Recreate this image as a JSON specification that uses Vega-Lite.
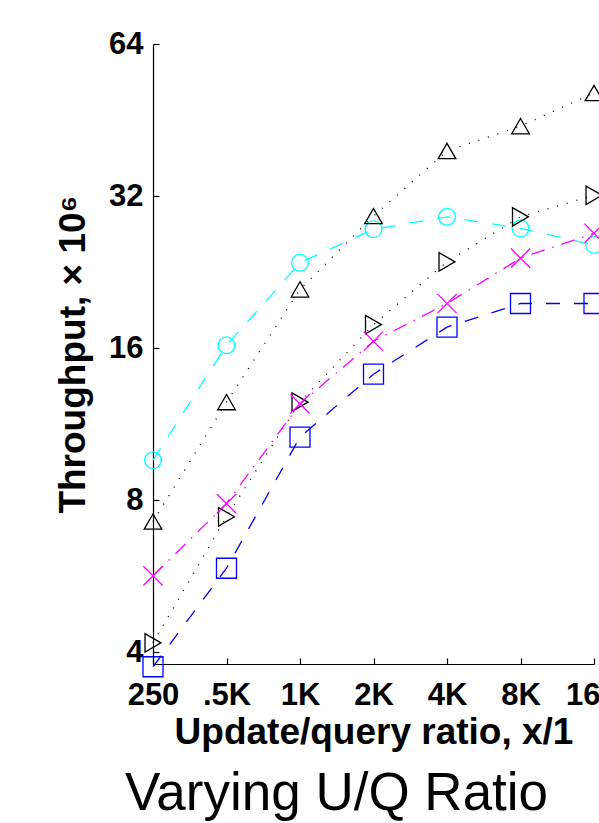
{
  "$schema": "https://vega.github.io/schema/vega-lite/v6.json",
  "width": 441,
  "height": 620,
  "autosize": {"type": "none"},
  "padding": {"left": 153, "top": 44, "right": 5, "bottom": 159},
  "background": "white",
  "config": {
    "view": {"stroke": null},
    "font": "Liberation Sans",
    "axis": {
      "grid": false,
      "domainColor": "black",
      "tickColor": "black",
      "labelColor": "black",
      "titleColor": "black",
      "labelFont": "Liberation Sans",
      "titleFont": "Liberation Sans",
      "labelFontWeight": "bold",
      "titleFontWeight": "bold",
      "labelFontSize": 31,
      "titleFontSize": 37,
      "domainWidth": 1.2,
      "tickWidth": 1.2,
      "tickSize": -6
    }
  },
  "title": {
    "text": "Varying U/Q Ratio",
    "orient": "bottom",
    "fontSize": 53,
    "fontWeight": "normal",
    "font": "Liberation Sans",
    "color": "black",
    "dx": -37,
    "offset": 18
  },
  "data": {
    "values": [
      {"series": "s1", "ratio": 250, "value": 9.59},
      {"series": "s1", "ratio": 500, "value": 16.2},
      {"series": "s1", "ratio": 1000, "value": 23.6},
      {"series": "s1", "ratio": 2000, "value": 27.5},
      {"series": "s1", "ratio": 4000, "value": 29.1},
      {"series": "s1", "ratio": 8000, "value": 27.6},
      {"series": "s1", "ratio": 16000, "value": 25.6},
      {"series": "s2", "ratio": 250, "value": 7.25},
      {"series": "s2", "ratio": 500, "value": 12.5},
      {"series": "s2", "ratio": 1000, "value": 20.9},
      {"series": "s2", "ratio": 2000, "value": 29.2},
      {"series": "s2", "ratio": 4000, "value": 39.3},
      {"series": "s2", "ratio": 8000, "value": 44.0},
      {"series": "s2", "ratio": 16000, "value": 51.2},
      {"series": "s3", "ratio": 250, "value": 4.17},
      {"series": "s3", "ratio": 500, "value": 7.41},
      {"series": "s3", "ratio": 1000, "value": 12.5},
      {"series": "s3", "ratio": 2000, "value": 17.8},
      {"series": "s3", "ratio": 4000, "value": 23.7},
      {"series": "s3", "ratio": 8000, "value": 29.1},
      {"series": "s3", "ratio": 16000, "value": 32.1},
      {"series": "s4", "ratio": 250, "value": 5.66},
      {"series": "s4", "ratio": 500, "value": 7.87},
      {"series": "s4", "ratio": 1000, "value": 12.4},
      {"series": "s4", "ratio": 2000, "value": 16.5},
      {"series": "s4", "ratio": 4000, "value": 19.6},
      {"series": "s4", "ratio": 8000, "value": 24.1},
      {"series": "s4", "ratio": 16000, "value": 27.0},
      {"series": "s5", "ratio": 250, "value": 3.74},
      {"series": "s5", "ratio": 500, "value": 5.86},
      {"series": "s5", "ratio": 1000, "value": 10.66},
      {"series": "s5", "ratio": 2000, "value": 14.2},
      {"series": "s5", "ratio": 4000, "value": 17.6},
      {"series": "s5", "ratio": 8000, "value": 19.6},
      {"series": "s5", "ratio": 16000, "value": 19.6}
    ]
  },
  "encoding": {
    "x": {
      "field": "ratio",
      "type": "quantitative",
      "scale": {"type": "log", "base": 2, "domain": [250, 16000], "nice": false},
      "axis": {
        "values": [250, 500, 1000, 2000, 4000, 8000, 16000],
        "labelExpr": "datum.value == 250 ? '250' : datum.value == 500 ? '.5K' : format(datum.value / 1000, 'd') + 'K'",
        "labelFlush": false,
        "labelOverlap": false,
        "labelPadding": 22,
        "title": "Update/query ratio, x/1",
        "titlePadding": 4
      }
    },
    "y": {
      "field": "value",
      "type": "quantitative",
      "scale": {"type": "log", "base": 2, "domain": [3.787, 64], "nice": false},
      "axis": {
        "values": [4, 8, 16, 32, 64],
        "format": "d",
        "labelPadding": 16,
        "title": "Throughput, × 10⁶",
        "titlePadding": 16
      }
    }
  },
  "layer": [
    {
      "mark": {"type": "line", "strokeWidth": 1.3, "clip": false},
      "encoding": {
        "color": {
          "field": "series",
          "type": "nominal",
          "scale": {"domain": ["s1", "s2", "s3", "s4", "s5"], "range": ["#00FFFF", "#000000", "#000000", "#FF00FF", "#0000FF"]},
          "legend": null
        },
        "strokeDash": {
          "field": "series",
          "type": "nominal",
          "scale": {"domain": ["s1", "s2", "s3", "s4", "s5"], "range": [[14, 14], [1, 9], [1, 9], [14, 8, 1.5, 8], [14, 14]]},
          "legend": null
        }
      }
    },
    {
      "mark": {"type": "point", "filled": false, "strokeWidth": 1.3, "opacity": 1, "clip": false},
      "encoding": {
        "color": {"field": "series", "type": "nominal", "legend": null},
        "shape": {
          "field": "series",
          "type": "nominal",
          "scale": {"domain": ["s1", "s2", "s3", "s4", "s5"], "range": ["circle", "triangle-up", "triangle-right", "M-1,-1L1,1M-1,1L1,-1", "square"]},
          "legend": null
        },
        "size": {
          "field": "series",
          "type": "nominal",
          "scale": {"domain": ["s1", "s2", "s3", "s4", "s5"], "range": [280, 400, 380, 150, 196]},
          "legend": null
        }
      }
    }
  ]
}
